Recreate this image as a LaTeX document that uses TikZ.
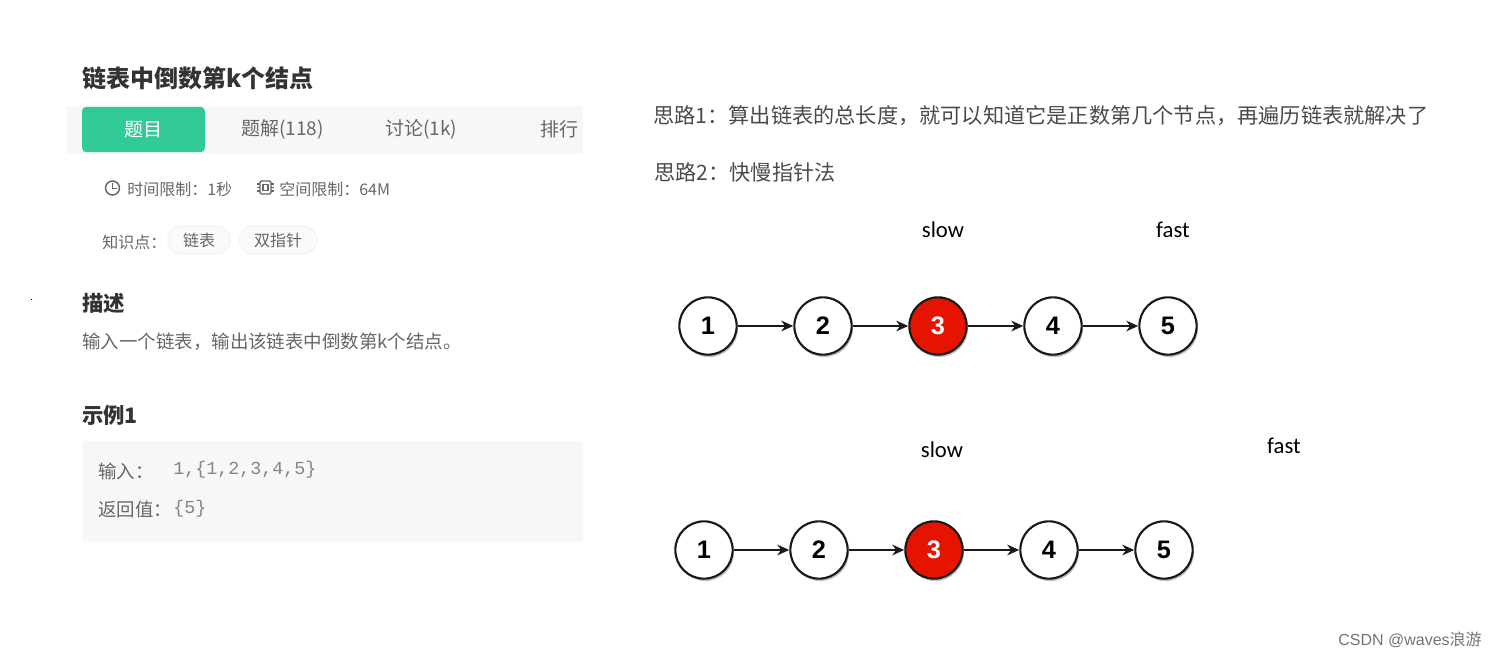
\documentclass[tikz,border=0pt]{standalone}
\usepackage{fontspec}
\setmainfont{Noto Sans CJK SC}
\newfontfamily\latinsans{Carlito}
\newfontfamily\codefont{Liberation Mono}
\newfontfamily\markfont{Liberation Sans}
\usetikzlibrary{shadows, arrows.meta}
\definecolor{tabgreen}{HTML}{32CA99}
\definecolor{panelgray}{HTML}{F6F8F7}
\definecolor{titleink}{HTML}{333333}
\definecolor{bodyink}{HTML}{666666}
\definecolor{noteink}{HTML}{4A4A4A}
\definecolor{listred}{HTML}{E51400}
\newcommand{\fsize}[1]{\fontsize{#1}{#1}\selectfont}
\newcommand{\zhcomma}{\symbol{"FF0C}}
\newcommand{\zhcolon}{\symbol{"FF1A}}
\tikzset{
    txt/.style={anchor=west, inner sep=0pt},
    heading/.style={txt, font=\fsize{16}\bfseries, text=titleink},
    body/.style={txt, font=\fsize{13.85}, text=bodyink},
    small/.style={txt, font=\fsize{12}, text=bodyink},
    code/.style={txt, font=\codefont\fsize{13.75}, text=bodyink!80},
    note/.style={txt, font=\fsize{15.9}, text=noteink},
    pointer/.style={inner sep=0pt, font=\latinsans\fsize{17}, text=black},
    pill/.style={draw=black!8, fill=panelgray!70, rounded corners=10.5pt, minimum height=21pt, inner sep=0pt, font=\fsize{12}, text=bodyink},
    listnode/.style={circle, draw=black!90, fill=white, line width=1.6pt, minimum size=43pt, inner sep=0pt,
        font=\markfont\fsize{19}\bfseries, drop shadow={shadow xshift=1pt, shadow yshift=-1.8pt, opacity=0.5}},
    current/.style={fill=listred, text=white},
    link/.style={-{Stealth[length=9pt, width=8pt]}, line width=1.5pt, black!90}
}
\begin{document}
\begin{tikzpicture}[x=0.75pt, y=-0.75pt]
    \useasboundingbox (0,0) rectangle (1497,657);

    % Problem panel
    \node[heading, font=\fsize{18}\bfseries] (title) at (82,78) {链表中倒数第k个结点};
    \fill[panelgray] (66,106) rectangle (583,154);
    \node[fill=tabgreen, rounded corners=3pt, minimum width=92pt, minimum height=34pt, inner sep=0pt, text=white, font=\fsize{14.25}] (tabA) at (143.5,129.5) {题目};
    \node[txt, font=\fsize{14.25}, text=bodyink] (tabB) at (241,129) {题解(118)};
    \node[txt, font=\fsize{14.25}, text=bodyink] (tabC) at (385,129) {讨论(1k)};
    \node[txt, font=\fsize{14.25}, text=bodyink] (tabD) at (540,129) {排行};

    % Limits
    \draw[bodyink, line width=1.1pt] (112.5,188) circle (7pt*0.75);
    \draw[bodyink, line width=1.1pt] (112.5,183) -- (112.5,188.5) -- (117,188.5);
    \node[small] (timeLimit) at (127,189) {时间限制\zhcolon 1秒};
    \draw[bodyink, line width=1.1pt, rounded corners=1pt] (260,181) rectangle (271,194);
    \draw[bodyink, line width=1.1pt] (263,184.5) rectangle (268,190.5);
    \foreach \ypos in {184,187.5,191} {
        \draw[bodyink, line width=0.9pt] (257,\ypos) -- (260,\ypos);
        \draw[bodyink, line width=0.9pt] (271,\ypos) -- (274,\ypos);
    }
    \node[small] (spaceLimit) at (279,189) {空间限制\zhcolon 64M};

    % Tags
    \node[small] (tagLabel) at (102,242) {知识点\zhcolon};
    \node[pill, minimum width=47pt] (tagA) at (199,240) {链表};
    \node[pill, minimum width=59pt] (tagB) at (278,240) {双指针};

    % Description
    \fill[black] (31.5,299.5) circle (0.5pt);
    \node[heading] (descHead) at (82,303) {描述};
    \node[body] (descText) at (82,342) {输入一个链表\zhcomma 输出该链表中倒数第k个结点。};
    \node[heading] (sampleHead) at (82,415) {示例1};
    \fill[panelgray, rounded corners=3pt] (82,441) rectangle (583,542);
    \node[body] (inLabel) at (98,471) {输入\zhcolon};
    \node[code] (inValue) at (173,470) {1,\{1,2,3,4,5\}};
    \node[body] (outLabel) at (98,509) {返回值\zhcolon};
    \node[code] (outValue) at (173,509) {\{5\}};

    % Notes
    \node[note] (noteA) at (653,116) {思路1\zhcolon 算出链表的总长度\zhcomma 就可以知道它是正数第几个节点\zhcomma 再遍历链表就解决了};
    \node[note] (noteB) at (654,172) {思路2\zhcolon 快慢指针法};

    % Upper list
    \node[pointer] (slowA) at (943,230) {slow};
    \node[pointer] (fastA) at (1173,230) {fast};
    \foreach \i/\xpos/\look in {1/708/{},2/823/{},3/938/current,4/1053/{},5/1168/{}} {
        \node[listnode, \look] (a\i) at (\xpos,326) {\i};
    }
    \foreach \i/\j in {1/2,2/3,3/4,4/5} {
        \draw[link] (a\i) -- (a\j);
    }

    % Lower list
    \node[pointer] (slowB) at (942,450) {slow};
    \node[pointer] (fastB) at (1284,446) {fast};
    \foreach \i/\xpos/\look in {1/704/{},2/819/{},3/934/current,4/1049/{},5/1164/{}} {
        \node[listnode, \look] (b\i) at (\xpos,550) {\i};
    }
    \foreach \i/\j in {1/2,2/3,3/4,4/5} {
        \draw[link] (b\i) -- (b\j);
    }

    % Watermark
    \node[anchor=east, inner sep=0pt, font=\fsize{12}, text=black!55] (mark) at (1482,640) {{\markfont CSDN @waves}浪游};
\end{tikzpicture}
\end{document}
